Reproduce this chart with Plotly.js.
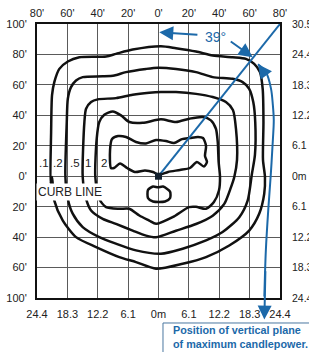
<!DOCTYPE html>
<html>
<head>
<meta charset="utf-8">
<script src="https://cdn.plot.ly/plotly-3.0.1.min.js"></script>
<style>
html,body{margin:0;padding:0;background:#fff;}
#chart{width:309px;height:352px;}
</style>
</head>
<body>
<div id="chart"></div>
<script>
// Axis ticks (grid units in feet, equally spaced)
const xTickVals = [-80,-60,-40,-20,0,20,40,60,80];
const xTopText = ["80'","60'","40'","20'","0'","20'","40'","60'","80'"];
const xBottomText = ["24.4","18.3","12.2","6.1","0m","6.1","12.2","18.3","24.4"];
const yTickVals = [100,80,60,40,20,0,-20,-40,-60,-80];
const yLeftText = ["100'","80'","60'","40'","20'","0'","20'","40'","60'","100'"];
const yRightText = ["30.5","24.4","18.3","12.2","6.1","0m","6.1","12.2","18.3","24.4"];

// Iso-footcandle contours (feet)
const c01x = [-70.1,-71.1,-70.7,-70.1,-68.6,-65.3,-59.7,-52.1,-34.5,-28.0,-17.0,1.6,11.5,24.7,35.7,48.8,57.6,63.0,66.8,68.6,69.1,68.8,70.1,69.6,66.3,59.7,46.6,31.3,15.9,-1.6,-14.8,-25.8,-41.1,-54.3,-63.0,-68.6,-70.1];
const c01y = [-0.5,-5.0,29.0,53.3,61.8,70.5,75.4,78.2,78.7,80.4,83.2,85.4,84.1,81.9,79.3,78.2,77.1,73.8,68.4,57.4,35.6,10.7,-0.5,-11.6,-24.7,-35.7,-45.5,-53.1,-57.5,-60.8,-56.4,-53.1,-46.5,-40.0,-29.1,-16.0,-0.5];

const c02x = [-61.3,-60.4,-59.7,-57.6,-54.3,-49.9,-36.7,-29.1,-21.4,-8.2,-0.3,11.5,24.7,35.7,48.8,55.4,59.7,62.4,63.7,63.5,61.5,58.7,53.2,42.2,31.3,15.9,1.6,-14.8,-28.0,-39.0,-49.9,-56.5,-59.7,-61.3];
const c02y = [-0.5,35.6,50.9,58.5,62.9,65.1,65.6,66.2,68.4,70.5,71.3,70.5,68.4,65.1,64.0,61.8,57.4,48.7,35.6,14.0,1.5,-16.0,-26.9,-36.7,-42.2,-47.6,-50.9,-48.7,-44.3,-40.0,-33.4,-24.6,-14.9,-0.5];

const c05x = [-49.9,-48.8,-47.7,-44.4,-40.0,-28.0,-17.0,-6.1,1.6,11.5,24.7,35.7,44.4,49.0,51.0,51.7,49.9,47.7,43.3,35.7,24.7,11.5,-1.6,-8.2,-17.0,-28.0,-36.7,-44.4,-47.7,-49.9];
const c05y = [-0.5,35.6,44.3,48.7,50.5,51.3,53.5,54.8,55.3,55.3,54.1,52.0,48.7,43.5,31.2,10.7,-0.5,-7.3,-18.2,-25.9,-31.4,-35.8,-40.1,-39.0,-35.7,-31.3,-28.0,-22.5,-14.9,-0.5];

const c1x = [-41.6,-40.7,-39.0,-35.7,-30.1,-24.7,-19.2,-10.4,1.6,11.5,20.3,29.1,34.5,37.8,39.0,39.6,40.5,39.8,36.5,31.3,24.7,20.1,9.3,-1.6,-6.1,-12.6,-19.2,-25.8,-34.5,-39.0,-41.6];
const c1y = [-0.5,24.6,35.6,40.4,42.6,40.0,35.6,35.1,37.4,35.6,37.8,38.9,36.7,31.2,22.5,9.4,-0.5,-9.4,-17.0,-21.4,-20.1,-20.3,-26.9,-31.3,-29.1,-25.8,-21.4,-21.4,-20.3,-14.9,-0.5];

const c2x = [-31.3,-31.9,-30.6,-26.6,-21.4,-14.8,-8.2,-1.6,4.9,10.2,15.5,20.7,26.0,29.3,31.3,30.6,31.9,29.9,25.3,20.7,14.1,6.3,0.3,-3.6,-8.9,-15.5,-20.7,-25.3,-29.3,-31.3];
const c2y = [5.4,17.2,24.4,26.4,25.8,22.5,21.5,23.8,23.1,21.8,24.4,25.1,25.8,25.1,19.9,13.3,9.4,6.4,9.4,5.4,4.1,2.8,0.9,2.8,3.8,2.8,5.4,8.4,5.4,5.4];

const c5x = [-6.9,-3.6,-0.3,3.0,7.6,7.6,4.3,-3.6,-6.9,-6.9];
const c5y = [-9.0,-6.8,-7.3,-6.8,-10.1,-14.4,-16.6,-16.6,-14.4,-9.0];

const contourLabels = [".1",".2",".5","1","2"];
const contourLabelX = [-75.7,-66.1,-55.3,-46.4,-35.9];
const contourLabelY = [8.7,8.7,8.7,8.7,8.7];

// Fixture and plane of maximum candlepower
const fixtureX = [0];
const fixtureY = [0];
const planeX = [0, 80];
const planeY = [0, 100];
const planeAngle = "39°";

// Blue indicator curve (feet)
const curveX = [65.5,70.7,74.0,75.3,75.9,75.3,74.0,72.4,70.7,69.7];
const curveY = [73.6,68.4,57.9,46.7,36.9,23.8,2.2,-20.1,-48.3,-79.1];

const BLUE = '#1c69a9';
const FONT = '"Liberation Sans",Arial,sans-serif';

function contour(x, y) {
  return {x: x, y: y, type: 'scatter', mode: 'lines', xaxis: 'x', yaxis: 'y',
    line: {color: '#111', width: 2.5, shape: 'spline', smoothing: 0.7},
    hoverinfo: 'skip', showlegend: false};
}

const traces = [
  contour(c01x, c01y), contour(c02x, c02y), contour(c05x, c05y),
  contour(c1x, c1y), contour(c2x, c2y), contour(c5x, c5y),
  {x: planeX, y: planeY, type: 'scatter', mode: 'lines', line: {color: BLUE, width: 2}, showlegend: false, hoverinfo: 'skip'},
  {x: curveX, y: curveY, type: 'scatter', mode: 'lines', line: {color: BLUE, width: 2, shape: 'spline'}, showlegend: false, hoverinfo: 'skip'},
  {x: fixtureX, y: fixtureY, type: 'scatter', mode: 'markers', marker: {symbol: 'square', size: 7, color: '#12202e'}, showlegend: false, hoverinfo: 'skip'},
  {x: [], y: [], type: 'scatter', xaxis: 'x2', yaxis: 'y2', showlegend: false, hoverinfo: 'skip'}
];

const annotations = [];
contourLabels.forEach((t, i) => {
  annotations.push({x: contourLabelX[i], y: contourLabelY[i], xref: 'x', yref: 'y', text: t, showarrow: false,
    font: {family: FONT, size: 11.5, color: '#222'}});
});
annotations.push({x: -58.2, y: -10.3, xref: 'x', yref: 'y', text: 'CURB LINE', showarrow: false,
  bgcolor: '#fff', borderpad: 1, font: {family: FONT, size: 12, color: '#222'}});
annotations.push({x: 37.5, y: 91.4, xref: 'x', yref: 'y', text: planeAngle, showarrow: false,
  font: {family: FONT, size: 14, color: BLUE}});
// arrows
function arrow(x, y, ax, ay) {
  return {x: x, y: y, ax: ax, ay: ay, xref: 'x', yref: 'y', axref: 'x', ayref: 'y', text: '',
    showarrow: true, arrowhead: 2, arrowsize: 1.4, arrowwidth: 2, arrowcolor: BLUE};
}
annotations.push(arrow(0.5, 94.6, 26.6, 92.8));
annotations.push(arrow(62.0, 78.2, 46.6, 89.2));
annotations.push(arrow(65.5, 73.6, 71.5, 65.5));
annotations.push(arrow(69.7, -94.2, 70.4, -61.4));
annotations.push({x: 0.551, y: -0.144, xref: 'paper', yref: 'paper', xanchor: 'left', yanchor: 'middle', align: 'left',
  text: '<b>Position of vertical plane<br>of maximum candlepower.</b>', showarrow: false,
  font: {family: FONT, size: 10.8, color: BLUE}});

const tickFont = {family: FONT, size: 11, color: '#222'};
const layout = {
  width: 309, height: 352,
  margin: {l: 37, r: 29, t: 24, b: 54},
  paper_bgcolor: '#fff', plot_bgcolor: '#fff',
  showlegend: false,
  font: {family: FONT, size: 11, color: '#222'},
  xaxis: {range: [-80, 80], tickvals: xTickVals, ticktext: xBottomText, side: 'bottom',
    showgrid: true, gridcolor: '#5a5a5a', gridwidth: 1.2, zeroline: false,
    showline: true, linecolor: '#111', linewidth: 2, mirror: true, ticks: '', ticklabelstandoff: 5,
    tickfont: tickFont, fixedrange: true},
  xaxis2: {range: [-80, 80], tickvals: xTickVals, ticktext: xTopText, side: 'top', overlaying: 'x',
    showgrid: false, zeroline: false, showline: false, ticks: '', ticklabelstandoff: 4,
    tickfont: tickFont, fixedrange: true},
  yaxis: {range: [-80, 100], tickvals: yTickVals, ticktext: yLeftText, side: 'left',
    showgrid: true, gridcolor: '#5a5a5a', gridwidth: 1.2, zeroline: false,
    showline: true, linecolor: '#111', linewidth: 2, mirror: true, ticks: '', ticklabelstandoff: 6,
    tickfont: tickFont, fixedrange: true},
  yaxis2: {range: [-80, 100], tickvals: yTickVals, ticktext: yRightText, side: 'right', overlaying: 'y',
    showgrid: false, zeroline: false, showline: false, ticks: '', ticklabelstandoff: 11,
    tickfont: {family: FONT, size: 10.5, color: '#222'}, fixedrange: true},
  shapes: [
    {type: 'rect', xref: 'paper', yref: 'paper', x0: 0.5185, x1: 1.25, y0: -0.3, y1: -0.0912,
     line: {color: '#4a78a0', width: 1}, fillcolor: '#fff', layer: 'below'}
  ],
  annotations: annotations
};

Plotly.newPlot('chart', traces, layout, {staticPlot: true, displayModeBar: false});
</script>
</body>
</html>
